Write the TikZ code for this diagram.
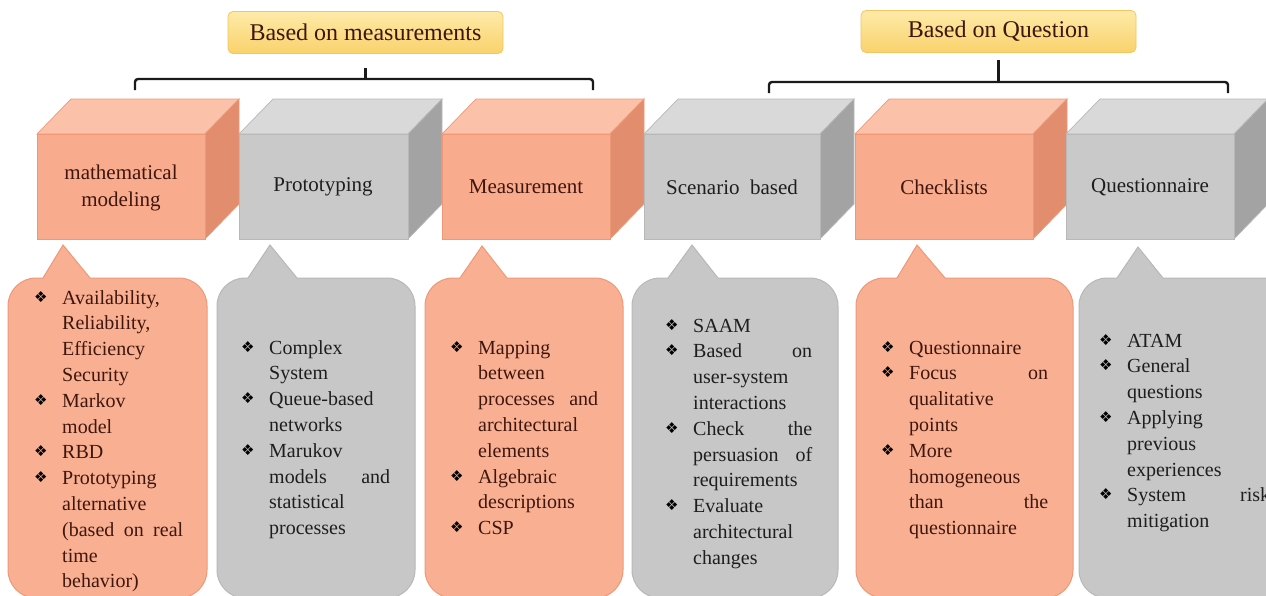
\documentclass[tikz,border=0pt]{standalone}
\usepackage{fontspec}
\setmainfont{Liberation Serif}
\newfontfamily\bulfont{DejaVu Sans}
\usepackage{tikz}
\definecolor{orgtop}{RGB}{251,194,169}
\definecolor{orgfront}{RGB}{249,171,141}
\definecolor{orgside}{RGB}{227,141,111}
\definecolor{orgline}{RGB}{238,152,120}
\definecolor{grytop}{RGB}{217,217,217}
\definecolor{gryfront}{RGB}{201,201,201}
\definecolor{gryside}{RGB}{163,163,163}
\definecolor{gryline}{RGB}{184,184,184}
\definecolor{orgfill}{RGB}{249,176,146}
\definecolor{grfill}{RGB}{199,199,199}
\definecolor{yeltop}{RGB}{254,234,168}
\definecolor{yelbot}{RGB}{249,210,108}
\definecolor{yelline}{RGB}{242,199,98}
\definecolor{orgtxt}{RGB}{62,22,14}
\definecolor{grytxt}{RGB}{30,30,30}
\definecolor{bracec}{RGB}{26,26,26}

\newcommand{\cube}[3]{%
	\filldraw[fill=#3top, draw=#3line, line width=0.7pt] (#1,134) -- (#1+34,99) -- (#2+34,99) -- (#2,134) -- cycle;
	\filldraw[fill=#3side, draw=#3line, line width=0.7pt] (#2,134) -- (#2+34,99) -- (#2+34,204) -- (#2,239) -- cycle;
	\filldraw[fill=#3front, draw=#3line, line width=0.7pt] (#1,134) rectangle (#2,239);
}
\newcommand{\itm}{\par\hangindent=28pt\hangafter=1\noindent\makebox[28pt][l]{\raisebox{2pt}{\color{black}\bulfont\fontsize{15}{15}\selectfont ❖}}\strut}

\begin{document}
\begin{tikzpicture}[x=1pt, y=-1pt,
	topbox/.style={rounded corners=5pt, draw=yelline, line width=0.8pt, top color=yeltop, bottom color=yelbot, minimum width=275pt, minimum height=42pt, text=orgtxt, font=\fontsize{24}{24}\selectfont},
	brace/.style={draw=bracec, line width=2.4pt, rounded corners=3pt},
	cubetext/.style={align=center, font=\fontsize{21}{27}\selectfont},
	orgcall/.style={fill=orgfill, draw=orgline, line width=1pt},
	grycall/.style={fill=grfill, draw=gryline, line width=1pt},
	calltext/.style={anchor=north west, inner sep=0pt, text width=#1, align=left, font=\fontsize{20}{25.8}\selectfont}]

	\clip (0,0) rectangle (1266,595);
	\fill[white] (0,0) rectangle (1266,595);

	\node[topbox] (mbox) at (365.5,32.5) {Based on measurements};
	\node[topbox] (qbox) at (998.5,31.5) {Based on Question};

	\coordinate (ml) at (135,90);
	\coordinate (mr) at (593,90);
	\coordinate (ql) at (769,93);
	\coordinate (qr) at (1228,93);
	\draw[brace] (ml) -- ++(0,-11) -| (mr);
	\draw[brace] ([yshift=-14pt]mbox.south) -- ++(0,12);
	\draw[brace] (ql) -- ++(0,-11) -| (qr);
	\draw[brace] ([yshift=-7pt]qbox.south) -- ++(0,22);

	\cube{37}{205}{org}
	\cube{239}{408}{gry}
	\cube{442}{610}{org}
	\cube{644}{820}{gry}
	\cube{855}{1033}{org}
	\cube{1066}{1234}{gry}

	\node[cubetext, text=orgtxt] (math) at (121,188) {mathematical\\modeling};
	\node[cubetext, text=grytxt] (proto) at (323,187) {Prototyping};
	\node[cubetext, text=orgtxt] (meas) at (526,187) {Measurement};
	\node[cubetext, text=grytxt] (scen) at (732,187) {Scenario\ \ based};
	\node[cubetext, text=orgtxt] (check) at (944,187) {Checklists};
	\node[cubetext, text=grytxt] (qnr) at (1150,187) {Questionnaire};

	\draw[orgcall] (8,598) [rounded corners=28pt]-- (8,278) [sharp corners]-- (43,278) -- (63,245) -- (90,278) [rounded corners=28pt]-- (207,278) -- (207,598) -- cycle;
	\draw[grycall] (217,598) [rounded corners=28pt]-- (217,278) [sharp corners]-- (248,278) -- (270,245) -- (297,278) [rounded corners=28pt]-- (415,278) -- (415,598) -- cycle;
	\draw[orgcall] (425,598) [rounded corners=28pt]-- (425,278) [sharp corners]-- (460,278) -- (482,246) -- (507,278) [rounded corners=28pt]-- (623,278) -- (623,598) -- cycle;
	\draw[grycall] (632,598) [rounded corners=28pt]-- (632,278) [sharp corners]-- (668,278) -- (692,245) -- (718,278) [rounded corners=28pt]-- (838,278) -- (838,598) -- cycle;
	\draw[orgcall] (856,598) [rounded corners=28pt]-- (856,278) [sharp corners]-- (897,278) -- (917,245) -- (945,278) [rounded corners=28pt]-- (1073,278) -- (1073,598) -- cycle;
	\draw[grycall] (1079,598) [rounded corners=28pt]-- (1079,278) [sharp corners]-- (1117,278) -- (1138,247) -- (1163,278) [rounded corners=28pt]-- (1300,278) -- (1300,598) -- cycle;

	\node[calltext=149pt, text=orgtxt] (mathlist) at (34,278) {%
		\itm Availability,\newline Reliability,\newline Efficiency\newline Security
		\itm Markov\newline model
		\itm RBD
		\itm Prototyping\newline alternative\newline (based\hfill on\hfill real\newline time\newline behavior)\par};
	\node[calltext=149pt, text=grytxt] (protolist) at (241,328) {%
		\itm Complex\newline System
		\itm Queue-based\newline networks
		\itm Marukov\newline models\hfill and\newline statistical\newline processes\par};
	\node[calltext=148pt, text=orgtxt] (measlist) at (450,328) {%
		\itm Mapping\newline between\newline processes\hfill and\newline architectural\newline elements
		\itm Algebraic\newline descriptions
		\itm CSP\par};
	\node[calltext=147pt, text=grytxt] (scenlist) at (665,306) {%
		\itm SAAM
		\itm Based\hfill on\newline user-system\newline interactions
		\itm Check\hfill the\newline persuasion\hfill of\newline requirements
		\itm Evaluate\newline architectural\newline changes\par};
	\node[calltext=167pt, text=orgtxt] (checklist) at (881,328) {%
		\itm Questionnaire
		\itm Focus\hfill on\newline qualitative\newline points
		\itm More\newline homogeneous\newline than\hfill the\newline questionnaire\par};
	\node[calltext=171pt, text=grytxt] (qnrlist) at (1099,321) {%
		\itm ATAM
		\itm General\newline questions
		\itm Applying\newline previous\newline experiences
		\itm System\hfill risk\newline mitigation\par};
\end{tikzpicture}
\end{document}
